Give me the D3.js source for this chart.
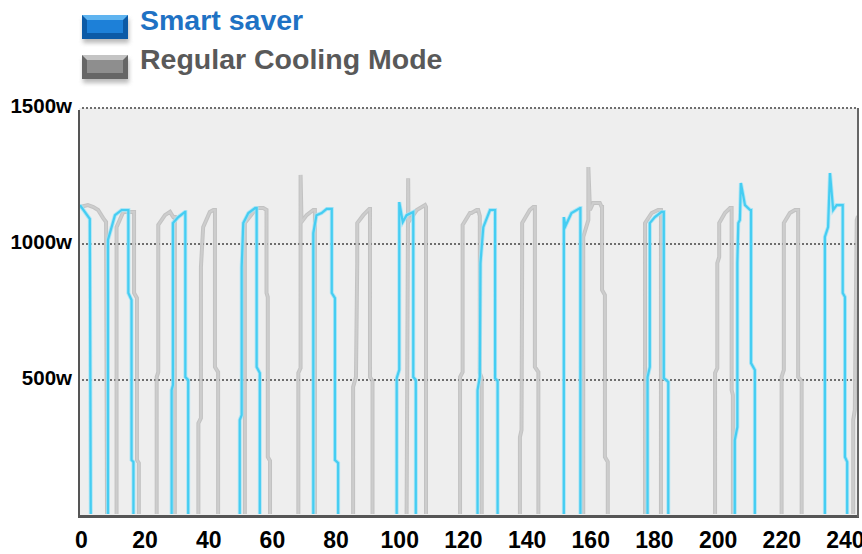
<!DOCTYPE html>
<meta charset="utf-8" />
<head>
  <style>
    body { margin: 0; background: #fff; }
    svg { display: block; font-family: "Liberation Sans", Arial, sans-serif; }
    .tick text { font-weight: bold; fill: #000; }
  </style>
  <script src="https://d3js.org/d3.v7.min.js"></script>
</head>
<body>
  <svg width="862" height="554"></svg>
  <script>
    // legend entries
    const seriesNames = ["Smart saver", "Regular Cooling Mode"];

    // tick labels
    const yTicks = [500, 1000, 1500];
    const xTicks = [0, 20, 40, 60, 80, 100, 120, 140, 160, 180, 200, 220, 240];

    // power draw in watts, [time, watts]
    const smartSaver = [
      [-0.3,1143],[2.8,1092],[3.1,0],[8.5,0],[8.5,1015],[10.7,1106],[12.8,1125],[14.9,1125],[14.9,820],[15.9,794],[15.9,206],[16.5,199],[16.5,0],
      [28.5,0],[28.5,463],[28.9,482],[28.9,1077],[30.6,1099],[32.7,1118],[32.8,1118],[32.8,511],[33.7,500],[33.7,0],
      [49.9,0],[49.9,353],[50.5,371],[50.5,915],[51.0,1077],[52.6,1114],[54.7,1132],[55.2,1132],[55.2,548],[56.2,526],[56.2,0],
      [73.0,0],[73.0,1040],[74.0,1106],[75.6,1114],[77.2,1129],[78.8,1129],[78.8,820],[79.8,801],[79.8,206],[80.8,195],[80.8,0],
      [99.2,0],[99.2,507],[100.0,537],[100.0,1154],[101.1,1081],[102.3,1106],[104.4,1118],[104.4,511],[105.2,500],[105.2,0],
      [124.6,0],[124.6,463],[125.3,511],[125.5,930],[126.4,1062],[128.5,1125],[130.1,1125],[130.1,507],[130.9,496],[130.9,0],
      [151.7,0],[151.7,1099],[152.2,1066],[154.1,1114],[156.8,1132],[156.9,1132],[156.9,0],
      [178.0,0],[178.0,511],[178.7,548],[178.7,1077],[180.3,1099],[182.4,1118],[183.1,1118],[183.1,507],[184.5,493],[184.5,0],
      [205.4,0],[205.4,279],[206.2,327],[206.2,930],[206.5,1077],[207.0,1088],[207.3,1224],[208.6,1143],[210.2,1125],[210.5,1125],[210.5,562],[211.7,537],[211.7,0],
      [233.7,0],[233.7,1026],[234.7,1062],[235.3,1261],[236.3,1125],[237.4,1143],[239.3,1143],[239.3,820],[240.0,805],[240.0,217],[240.7,199],[240.7,0]
    ];

    const regularCooling = [
      [-0.3,1136],[2.2,1143],[3.9,1136],[5.4,1125],[7.0,1095],[7.9,1081],[8.2,0],
      [11.2,0],[11.2,1062],[13.3,1118],[16.4,1118],[16.7,1118],[16.7,820],[17.6,801],[17.6,206],[18.2,195],[18.2,0],
      [23.8,0],[23.8,511],[24.3,529],[24.3,1070],[26.4,1106],[28.0,1118],[29.0,1099],[29.5,1099],[29.5,0],
      [36.9,0],[36.9,341],[37.7,360],[37.7,915],[38.4,1062],[40.5,1118],[41.6,1125],[42.1,1125],[42.1,548],[43.1,529],[43.1,0],
      [51.5,0],[51.5,1077],[55.2,1132],[57.3,1132],[58.3,1125],[58.3,820],[58.7,805],[58.7,217],[59.4,203],[59.4,0],
      [68.3,0],[68.3,526],[69.0,544],[69.0,1254],[69.3,1081],[70.9,1106],[73.0,1125],[73.5,1125],[73.5,0],
      [85.5,0],[85.5,474],[86.4,511],[86.8,930],[86.8,1077],[88.7,1106],[90.6,1129],[90.8,1129],[90.8,511],[91.6,496],[91.6,0],
      [102.3,0],[102.8,1242],[102.9,1081],[105.5,1125],[108.1,1143],[108.4,1136],[108.4,0],
      [119.1,0],[119.1,511],[119.9,529],[119.9,1070],[122.2,1114],[122.7,1114],[124.3,1125],[124.8,1125],[125.3,1103],[125.3,526],[125.9,507],[125.9,0],
      [137.9,0],[137.9,290],[138.4,316],[138.6,930],[138.6,1077],[141.0,1125],[142.1,1136],[142.6,1136],[142.6,548],[143.7,529],[143.7,0],
      [157.8,0],[157.8,1026],[159.4,1088],[159.4,1283],[159.9,1125],[160.9,1151],[163.0,1151],[163.6,1136],[163.7,1136],[163.7,831],[164.6,812],[164.6,217],[165.5,199],[165.5,0],
      [177.2,0],[177.2,1077],[179.3,1114],[181.3,1125],[182.2,1125],[182.2,0],
      [199.2,0],[199.2,526],[199.9,544],[199.9,930],[200.5,952],[200.5,1077],[202.3,1114],[203.9,1132],[204.4,1132],[204.4,463],[204.8,445],[204.8,0],
      [220.1,0],[220.1,511],[220.8,537],[220.8,1077],[222.7,1114],[224.3,1125],[225.3,1125],[225.3,511],[226.4,496],[226.4,0],
      [242.6,0],[242.6,353],[243.1,390],[243.7,1088],[244.1,1103]
    ];

    const svg = d3.select("svg");
    const plotLeft = 79, plotRight = 858, plotTop = 108, plotBottom = 516;

    const x = d3.scaleLinear().domain([-0.6, 244.1]).range([plotLeft, plotRight]);
    const y = d3.scaleLinear().domain([0, 1500]).range([plotBottom, plotTop]);

    const defs = svg.append("defs");
    // clip just above the axis so the zero stretches hide behind it
    defs.append("clipPath").attr("id", "plotClip")
      .append("rect").attr("x", plotLeft).attr("y", plotTop - 40)
      .attr("width", plotRight - plotLeft).attr("height", plotBottom - plotTop + 38);
    defs.append("filter").attr("id", "soft")
      .append("feGaussianBlur").attr("stdDeviation", 0.7);
    defs.append("filter").attr("id", "shadow")
      .attr("x", "-20%").attr("y", "-20%").attr("width", "140%").attr("height", "160%")
      .append("feGaussianBlur").attr("stdDeviation", 2);

    // plot background
    svg.append("rect")
      .attr("x", plotLeft).attr("y", plotTop)
      .attr("width", plotRight - plotLeft).attr("height", plotBottom - plotTop)
      .attr("fill", "#eeeeee");

    // dotted gridlines
    svg.append("g").selectAll("line")
      .data(yTicks)
      .join("line")
      .attr("x1", plotLeft + 3).attr("x2", plotRight)
      .attr("y1", d => y(d)).attr("y2", d => y(d))
      .attr("stroke", "#6e6e6e")
      .attr("stroke-width", 2)
      .attr("stroke-dasharray", "2,2");

    const line = d3.line().x(d => x(d[0])).y(d => y(d[1]));
    const plot = svg.append("g").attr("clip-path", "url(#plotClip)");

    // regular mode, soft grey with darker rim
    plot.append("path").datum(regularCooling)
      .attr("d", line).attr("fill", "none")
      .attr("stroke", "#a6a6a6").attr("stroke-width", 4)
      .attr("opacity", 0.6).attr("filter", "url(#soft)");
    plot.append("path").datum(regularCooling)
      .attr("d", line).attr("fill", "none")
      .attr("stroke", "#cdcdcd").attr("stroke-width", 2);

    // smart saver, cyan
    plot.append("path").datum(smartSaver)
      .attr("d", line).attr("fill", "none")
      .attr("stroke", "#9fe4f7").attr("stroke-width", 4)
      .attr("opacity", 0.8).attr("filter", "url(#soft)");
    plot.append("path").datum(smartSaver)
      .attr("d", line).attr("fill", "none")
      .attr("stroke", "#45cdf2").attr("stroke-width", 2.2);

    // frame
    svg.append("line").attr("x1", plotLeft).attr("x2", plotLeft)
      .attr("y1", plotTop + 2).attr("y2", plotBottom + 1)
      .attr("stroke", "#555").attr("stroke-width", 2);
    svg.append("line").attr("x1", plotLeft - 1).attr("x2", plotRight + 1)
      .attr("y1", plotBottom + 0.5).attr("y2", plotBottom + 0.5)
      .attr("stroke", "#555").attr("stroke-width", 3);
    svg.append("line").attr("x1", plotRight).attr("x2", plotRight)
      .attr("y1", plotTop).attr("y2", plotBottom + 1)
      .attr("stroke", "#666").attr("stroke-width", 2);

    // axes
    const yAxis = svg.append("g")
      .attr("transform", "translate(" + plotLeft + ",0)")
      .call(d3.axisLeft(y).tickValues(yTicks).tickSize(0).tickPadding(7)
        .tickFormat(d => d + "w"));
    yAxis.select(".domain").remove();
    yAxis.selectAll("text").style("font-size", "20.5px").attr("dy", "0.2em");

    const xAxis = svg.append("g")
      .attr("transform", "translate(0," + plotBottom + ")")
      .call(d3.axisBottom(x).tickValues(xTicks).tickSize(0).tickPadding(16));
    xAxis.select(".domain").remove();
    xAxis.selectAll("text").style("font-size", "23px");

    // legend
    const legendColors = [
      { light: "#5fb4f0", mid: "#1d80d8", dark: "#0c5aa6", text: "#1f72c4" },
      { light: "#c4c4c4", mid: "#8e8e8e", dark: "#666", text: "#595959" }
    ];
    const lx = 82, lw = 46, lh = 24, bev = 5;
    seriesNames.forEach(function (name, i) {
      const c = legendColors[i];
      const ly = 15 + i * 40;
      const g = svg.append("g");
      g.append("rect").attr("x", lx + 1).attr("y", ly + 4)
        .attr("width", lw).attr("height", lh)
        .attr("fill", "#777").attr("opacity", 0.5).attr("filter", "url(#shadow)");
      g.append("rect").attr("x", lx).attr("y", ly)
        .attr("width", lw).attr("height", lh).attr("fill", c.dark);
      g.append("polygon")
        .attr("points", [[lx, ly], [lx + lw, ly], [lx + lw - bev, ly + bev], [lx + bev, ly + bev]].join(" "))
        .attr("fill", c.light);
      g.append("rect").attr("x", lx + bev).attr("y", ly + bev)
        .attr("width", lw - 2 * bev).attr("height", lh - 2 * bev - 1)
        .attr("fill", c.mid);
      g.append("text")
        .attr("x", 140).attr("y", 29.5 + i * 39)
        .attr("fill", c.text)
        .style("font-size", "28.5px").style("font-weight", "bold")
        .text(name);
    });
  </script>
</body>
